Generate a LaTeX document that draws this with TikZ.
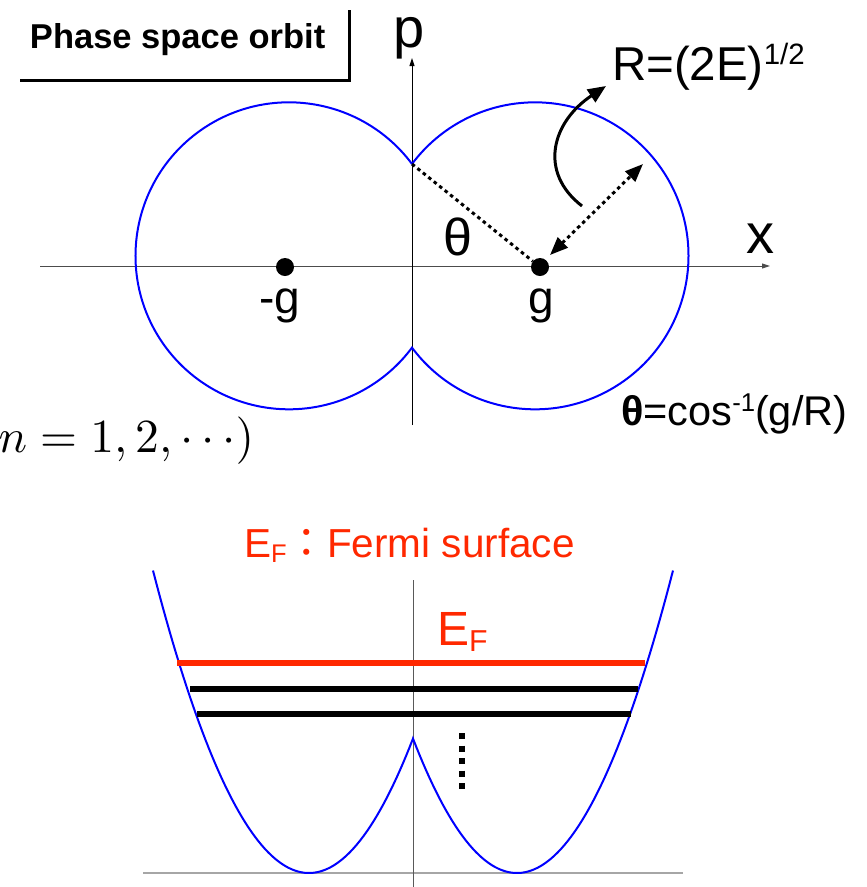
\documentclass[tikz,border=0pt]{standalone}
\usepackage{fontspec}
\usepackage{graphicx}
\setmainfont{Liberation Sans}
\newfontfamily\cjk{Noto Sans CJK JP}
\usetikzlibrary{arrows.meta}
\definecolor{fermired}{RGB}{255,40,0}
\definecolor{orbitblue}{RGB}{0,0,255}
\newcommand{\fsz}[1]{\fontsize{#1}{#1}\selectfont}
\newcommand{\lowsub}[1]{\raisebox{-0.13em}{\scalebox{0.63}{#1}}}
\newcommand{\highsup}[1]{\raisebox{0.33em}{\scalebox{0.62}{#1}}}
\begin{document}
\begin{tikzpicture}[x=1pt,y=-1pt,
  lbl/.style={inner sep=0pt,outer sep=0pt},
  orbit/.style={draw=orbitblue,line width=2pt},
  axisline/.style={line width=1pt},
  axtip/.style={-{Triangle[length=8pt,width=5pt]}},
  dotline/.style={line width=3pt,dash pattern=on 3.5pt off 3.5pt},
  level/.style={line width=6pt},
  bigdot/.style={circle,fill=black,inner sep=0pt,minimum size=18pt},
  boxline/.style={line width=3pt}]
\useasboundingbox (0,0) rectangle (867,887);

% ---------- title box ----------
\coordinate (bxA) at (20,80);
\coordinate (bxC) at (349,80);
\coordinate (bxB) at (349,10);
\draw[boxline] (bxA) -- (bxC) -- (bxB);
\node[lbl,anchor=base west] (ttl) at (30,48) {\fsz{34.5}\bfseries Phase space orbit};

% ---------- top: phase space ----------
\coordinate (xL) at (40,266);
\coordinate (xR) at (770,266);
\coordinate (pB) at (412,425);
\coordinate (pT) at (412,58);
\draw[axisline,draw=black!70,axtip] (xL) -- (xR);
\draw[axisline,axtip] (pB) -- (pT);

\coordinate (cuspT) at (412,164);
\coordinate (cuspB) at (412,348);
\draw[orbit] (cuspT) arc[start angle=36.74,end angle=323.26,radius=153.5pt]
                     arc[start angle=216.74,end angle=503.26,radius=153.5pt];

\node[bigdot] (gm) at (285,267) {};
\node[bigdot] (gp) at (540,267) {};

\draw[dotline] (cuspT) -- (gp);

\coordinate (da) at (550,255);
\coordinate (db) at (643,164);
\draw[dotline,{Triangle[length=18pt,width=14pt]}-{Triangle[length=18pt,width=14pt]}] (da) -- (db);

\coordinate (ca) at (582,206);
\coordinate (cb) at (606,86);
\draw[line width=3pt,-{Triangle[length=18pt,width=15pt]}] (ca) .. controls (538,172) and (552,122) .. (cb);

\node[lbl,anchor=base] (plbl) at (409,47) {\fsz{56}p};
\node[lbl,anchor=base] (xlbl) at (760,253) {\fsz{56}x};
\node[lbl,anchor=base] (thlbl) at (458,255) {\fsz{52}θ};
\node[lbl,anchor=base] (gmlbl) at (280,313) {\fsz{46}-g};
\node[lbl,anchor=base] (gplbl) at (541,313) {\fsz{46}g};
\node[lbl,anchor=base west] (rlbl) at (612,80) {\fsz{47.5}R=(2E)\highsup{1/2}};
\node[lbl,anchor=base west] (eqlbl) at (621,425) {\fsz{41.5}\textbf{θ}=cos\highsup{-1}(g/R)};
\node[lbl,anchor=base east] (nlbl) at (254,452) {\scalebox{4.75}{$n=1,2,\cdots)$}};

% ---------- bottom: energy ----------
\node[lbl,anchor=base west,text=fermired] (efcap) at (244,557) {\fsz{40.5}E\lowsub{F}{\cjk ：}Fermi surface};
\node[lbl,anchor=base west,text=fermired] (eflbl) at (437,645) {\fsz{48}E\lowsub{F}};

\coordinate (bL) at (143,873);
\coordinate (bR) at (683,873);
\coordinate (vT) at (413,580);
\coordinate (vB) at (413,887);
\draw[line width=1.5pt,draw=black!35] (bL) -- (bR);
\draw[axisline,draw=black!65] (vT) -- (vB);

\draw[orbit] plot[domain=153:413,samples=80] (\x,{873-1.243*((\x-309)/10)^2})
          -- plot[domain=413:673,samples=80] (\x,{873-1.243*((\x-517)/10)^2});

\coordinate (r1) at (177,663);
\coordinate (r2) at (645,663);
\coordinate (k1) at (190,689);
\coordinate (k2) at (638,689);
\coordinate (m1) at (197,714);
\coordinate (m2) at (631,714);
\draw[level,draw=fermired] (r1) -- (r2);
\draw[level] (k1) -- (k2);
\draw[level] (m1) -- (m2);

\coordinate (vd1) at (462,733);
\coordinate (vd2) at (462,789);
\draw[line width=6pt,dash pattern=on 6pt off 6.5pt] (vd1) -- (vd2);
\end{tikzpicture}
\end{document}
